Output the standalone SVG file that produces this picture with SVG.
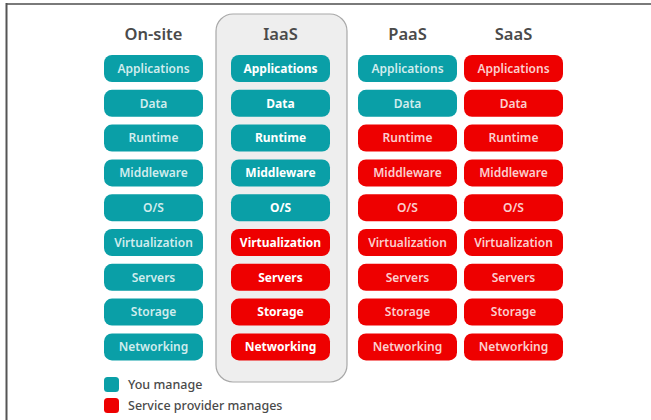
<svg xmlns="http://www.w3.org/2000/svg" width="651" height="420" viewBox="0 0 651 420">
<style>
.hdr{font-family:"Noto Sans","Liberation Sans",sans-serif;font-size:16.5px;font-weight:600;fill:#4a4a4a;text-anchor:middle}
.b{stroke:none}
.t{fill:#0a9fa7}
.r{fill:#ee0000}
.lbl{font-family:"Noto Sans","Liberation Sans",sans-serif;font-size:12px;font-weight:600;fill:#ffffff;fill-opacity:0.82;text-anchor:middle}
.bold{font-weight:700;fill-opacity:1}
.leg{font-family:"Noto Sans","Liberation Sans",sans-serif;font-size:12.5px;font-weight:500;fill:#4a4a4a}
</style>
<rect x="0" y="0" width="651" height="420" fill="#ffffff"/>
<line x1="6" y1="4" x2="651" y2="4" stroke="#7a7a7a" stroke-width="2"/>
<line x1="6.5" y1="3" x2="6.5" y2="420" stroke="#555" stroke-width="2"/>
<g id="iaas-panel"><rect x="216" y="14" width="131" height="368" rx="17" fill="#eeeeee" stroke="#a8a8a8" stroke-width="1.2"/></g>
<g id="headers">
<text class="hdr" x="153.5" y="40">On-site</text>
<text class="hdr" x="280.5" y="40">IaaS</text>
<text class="hdr" x="407.5" y="40">PaaS</text>
<text class="hdr" x="513.5" y="40">SaaS</text>
</g>
<g id="onsite">
<g id="onsite-applications"><rect class="b t" x="104" y="55" width="99" height="27" rx="8"/><text class="lbl" x="153.5" y="72.7">Applications</text></g>
<g id="onsite-data"><rect class="b t" x="104" y="89.8" width="99" height="27" rx="8"/><text class="lbl" x="153.5" y="107.5">Data</text></g>
<g id="onsite-runtime"><rect class="b t" x="104" y="124.6" width="99" height="27" rx="8"/><text class="lbl" x="153.5" y="142.3">Runtime</text></g>
<g id="onsite-middleware"><rect class="b t" x="104" y="159.4" width="99" height="27" rx="8"/><text class="lbl" x="153.5" y="177.1">Middleware</text></g>
<g id="onsite-os"><rect class="b t" x="104" y="194.2" width="99" height="27" rx="8"/><text class="lbl" x="153.5" y="211.9">O/S</text></g>
<g id="onsite-virtualization"><rect class="b t" x="104" y="229" width="99" height="27" rx="8"/><text class="lbl" x="153.5" y="246.7">Virtualization</text></g>
<g id="onsite-servers"><rect class="b t" x="104" y="263.8" width="99" height="27" rx="8"/><text class="lbl" x="153.5" y="281.5">Servers</text></g>
<g id="onsite-storage"><rect class="b t" x="104" y="298.6" width="99" height="27" rx="8"/><text class="lbl" x="153.5" y="316.3">Storage</text></g>
<g id="onsite-networking"><rect class="b t" x="104" y="333.4" width="99" height="27" rx="8"/><text class="lbl" x="153.5" y="351.1">Networking</text></g>
</g>
<g id="iaas">
<g id="iaas-applications"><rect class="b t" x="231" y="55" width="99" height="27" rx="8"/><text class="lbl bold" x="280.5" y="72.7">Applications</text></g>
<g id="iaas-data"><rect class="b t" x="231" y="89.8" width="99" height="27" rx="8"/><text class="lbl bold" x="280.5" y="107.5">Data</text></g>
<g id="iaas-runtime"><rect class="b t" x="231" y="124.6" width="99" height="27" rx="8"/><text class="lbl bold" x="280.5" y="142.3">Runtime</text></g>
<g id="iaas-middleware"><rect class="b t" x="231" y="159.4" width="99" height="27" rx="8"/><text class="lbl bold" x="280.5" y="177.1">Middleware</text></g>
<g id="iaas-os"><rect class="b t" x="231" y="194.2" width="99" height="27" rx="8"/><text class="lbl bold" x="280.5" y="211.9">O/S</text></g>
<g id="iaas-virtualization"><rect class="b r" x="231" y="229" width="99" height="27" rx="8"/><text class="lbl bold" x="280.5" y="246.7">Virtualization</text></g>
<g id="iaas-servers"><rect class="b r" x="231" y="263.8" width="99" height="27" rx="8"/><text class="lbl bold" x="280.5" y="281.5">Servers</text></g>
<g id="iaas-storage"><rect class="b r" x="231" y="298.6" width="99" height="27" rx="8"/><text class="lbl bold" x="280.5" y="316.3">Storage</text></g>
<g id="iaas-networking"><rect class="b r" x="231" y="333.4" width="99" height="27" rx="8"/><text class="lbl bold" x="280.5" y="351.1">Networking</text></g>
</g>
<g id="paas">
<g id="paas-applications"><rect class="b t" x="358" y="55" width="99" height="27" rx="8"/><text class="lbl" x="407.5" y="72.7">Applications</text></g>
<g id="paas-data"><rect class="b t" x="358" y="89.8" width="99" height="27" rx="8"/><text class="lbl" x="407.5" y="107.5">Data</text></g>
<g id="paas-runtime"><rect class="b r" x="358" y="124.6" width="99" height="27" rx="8"/><text class="lbl" x="407.5" y="142.3">Runtime</text></g>
<g id="paas-middleware"><rect class="b r" x="358" y="159.4" width="99" height="27" rx="8"/><text class="lbl" x="407.5" y="177.1">Middleware</text></g>
<g id="paas-os"><rect class="b r" x="358" y="194.2" width="99" height="27" rx="8"/><text class="lbl" x="407.5" y="211.9">O/S</text></g>
<g id="paas-virtualization"><rect class="b r" x="358" y="229" width="99" height="27" rx="8"/><text class="lbl" x="407.5" y="246.7">Virtualization</text></g>
<g id="paas-servers"><rect class="b r" x="358" y="263.8" width="99" height="27" rx="8"/><text class="lbl" x="407.5" y="281.5">Servers</text></g>
<g id="paas-storage"><rect class="b r" x="358" y="298.6" width="99" height="27" rx="8"/><text class="lbl" x="407.5" y="316.3">Storage</text></g>
<g id="paas-networking"><rect class="b r" x="358" y="333.4" width="99" height="27" rx="8"/><text class="lbl" x="407.5" y="351.1">Networking</text></g>
</g>
<g id="saas">
<g id="saas-applications"><rect class="b r" x="464" y="55" width="99" height="27" rx="8"/><text class="lbl" x="513.5" y="72.7">Applications</text></g>
<g id="saas-data"><rect class="b r" x="464" y="89.8" width="99" height="27" rx="8"/><text class="lbl" x="513.5" y="107.5">Data</text></g>
<g id="saas-runtime"><rect class="b r" x="464" y="124.6" width="99" height="27" rx="8"/><text class="lbl" x="513.5" y="142.3">Runtime</text></g>
<g id="saas-middleware"><rect class="b r" x="464" y="159.4" width="99" height="27" rx="8"/><text class="lbl" x="513.5" y="177.1">Middleware</text></g>
<g id="saas-os"><rect class="b r" x="464" y="194.2" width="99" height="27" rx="8"/><text class="lbl" x="513.5" y="211.9">O/S</text></g>
<g id="saas-virtualization"><rect class="b r" x="464" y="229" width="99" height="27" rx="8"/><text class="lbl" x="513.5" y="246.7">Virtualization</text></g>
<g id="saas-servers"><rect class="b r" x="464" y="263.8" width="99" height="27" rx="8"/><text class="lbl" x="513.5" y="281.5">Servers</text></g>
<g id="saas-storage"><rect class="b r" x="464" y="298.6" width="99" height="27" rx="8"/><text class="lbl" x="513.5" y="316.3">Storage</text></g>
<g id="saas-networking"><rect class="b r" x="464" y="333.4" width="99" height="27" rx="8"/><text class="lbl" x="513.5" y="351.1">Networking</text></g>
</g>
<g id="legend">
<g id="legend-you"><rect class="t" x="104" y="377" width="15" height="15" rx="3.5"/><text class="leg" x="128" y="388.5">You manage</text></g>
<g id="legend-provider"><rect class="r" x="104" y="398" width="15" height="15" rx="3.5"/><text class="leg" x="128" y="409.5">Service provider manages</text></g>
</g>
<g id="connectors"/>
</svg>
